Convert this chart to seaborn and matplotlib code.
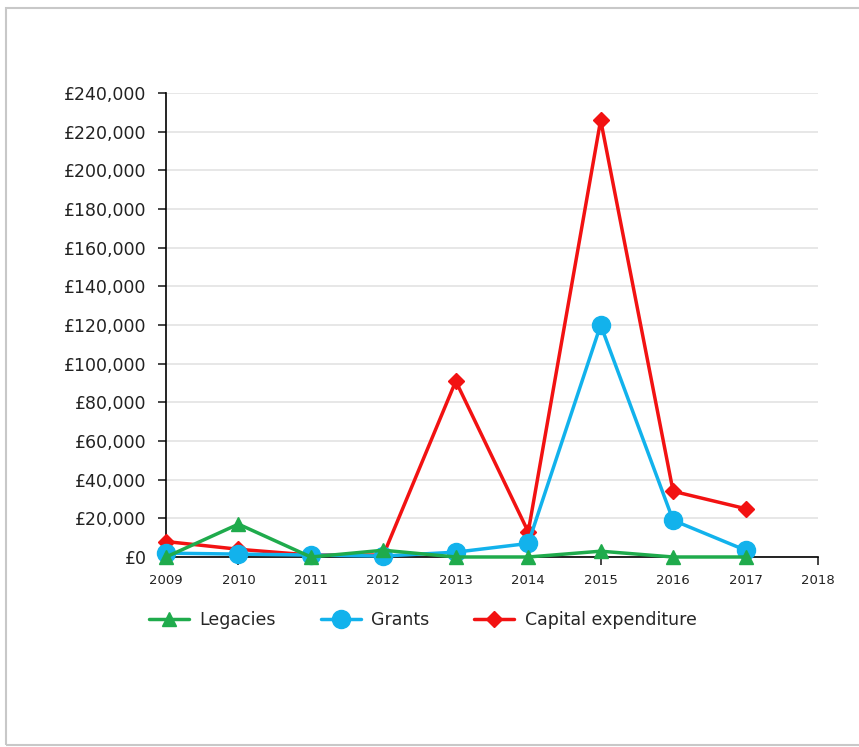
import numpy as np
import pandas as pd
import matplotlib
matplotlib.use("Agg")
import matplotlib.pyplot as plt
import seaborn as sns
from matplotlib.ticker import FuncFormatter, MultipleLocator
from matplotlib.patches import Rectangle

# Values
years = [2009, 2010, 2011, 2012, 2013, 2014, 2015, 2016, 2017]
legacies = [0, 17000, 0, 3500, 0, 0, 3000, 0, 0]
grants = [2000, 1500, 1000, 500, 2500, 7000, 120000, 19000, 3500]
capital = [8000, 4000, 1000, 1000, 91000, 13000, 226000, 34000, 25000]

series_names = ["Legacies", "Grants", "Capital expenditure"]
colors = {"Legacies": "#1fab4c", "Grants": "#12b2ec", "Capital expenditure": "#f21212"}
markers = {"Legacies": "^", "Grants": "o", "Capital expenditure": "D"}
msizes = {"Legacies": 10, "Grants": 13, "Capital expenditure": 8}

df = pd.DataFrame({
    "Year": years * 3,
    "Amount": legacies + grants + capital,
    "Series": ["Legacies"] * 9 + ["Grants"] * 9 + ["Capital expenditure"] * 9,
})

sns.set_style("white")
plt.rcParams["font.family"] = ["DejaVu Sans"]

fig = plt.figure(figsize=(8.59, 7.47), dpi=100)
ax = fig.add_axes([166 / 859, 1 - 557 / 747, (818 - 166) / 859, (557 - 93) / 747])

# draw red first, green last so the small values sit on top
for z, name in zip([3, 2, 1], series_names):
    sub = df[df["Series"] == name]
    sns.lineplot(data=sub, x="Year", y="Amount", ax=ax, color=colors[name],
                 marker=markers[name], markersize=msizes[name],
                 markeredgecolor=colors[name], markeredgewidth=1,
                 linewidth=2.5, label=name, zorder=z + 2, clip_on=False)

ax.set_xlim(2009, 2018)
ax.set_ylim(0, 240000)
ax.xaxis.set_major_locator(MultipleLocator(1))
ax.yaxis.set_major_locator(MultipleLocator(20000))
ax.yaxis.set_major_formatter(FuncFormatter(lambda v, p: f"£{int(v):,}"))
ax.set_xlabel("")
ax.set_ylabel("")
ax.grid(axis="y", color="#e3e3e3", linewidth=1.2)
ax.grid(axis="x", visible=False)
for s in ["top", "right"]:
    ax.spines[s].set_visible(False)
for s in ["left", "bottom"]:
    ax.spines[s].set_color("black")
    ax.spines[s].set_linewidth(1.2)
ax.tick_params(axis="y", which="major", left=True, length=6, width=1.2,
               labelsize=12.5, labelcolor="#222222", pad=8)
ax.tick_params(axis="x", which="major", bottom=True, length=6, width=1.2,
               labelsize=9.5, labelcolor="#222222", pad=6)

handles, labels = ax.get_legend_handles_labels()
ax.legend_.remove()
fig.legend(handles, labels, loc="center left", bbox_to_anchor=(133 / 859, 1 - 620 / 747),
           ncol=3, frameon=False, fontsize=12.5, handlelength=2.3,
           columnspacing=2.6, handletextpad=0.6)

# light frame around the chart, as in the screenshot
fig.patches.append(Rectangle((6 / 859, 2 / 747), 1.0, 1 - 10 / 747, transform=fig.transFigure,
                             fill=False, edgecolor="#c8c8c8", linewidth=1.5))

fig.savefig("out.png", dpi=100)
